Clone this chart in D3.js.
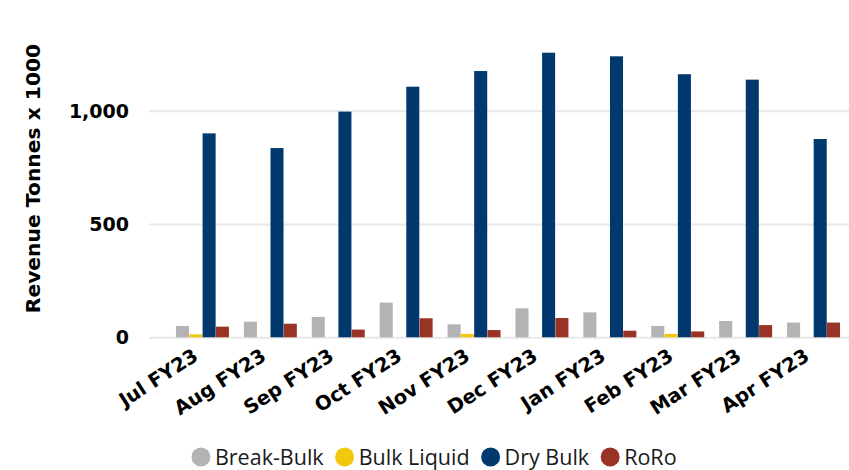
<!DOCTYPE html>
<html><head><meta charset="utf-8">
<script src="https://cdn.jsdelivr.net/npm/d3@7"></script>
<style>body{margin:0;background:#fff}svg{display:block}</style>
</head><body>
<svg id="c" width="849" height="470"></svg>
<script>
const categories = ["Jul FY23","Aug FY23","Sep FY23","Oct FY23","Nov FY23","Dec FY23","Jan FY23","Feb FY23","Mar FY23","Apr FY23"];
const seriesNames = ["Break-Bulk","Bulk Liquid","Dry Bulk","RoRo"];
const breakBulk  = [50, 69, 90, 153, 57, 128, 110, 50, 72, 65];
const bulkLiquid = [13, 0, 0, 0, 15, 0, 0, 15, 0, 0];
const dryBulk    = [900, 835, 996, 1106, 1175, 1256, 1240, 1161, 1137, 875];
const roRo       = [47, 60, 34, 84, 32, 85, 29, 26, 54, 65];
const yTicks = [0, 500, 1000];
const colors = ["#b3b3b3","#f2c80f","#01386e","#983325"];

const seriesVals = [breakBulk, bulkLiquid, dryBulk, roRo];
const svg = d3.select("#c");
const y = d3.scaleLinear().domain([0, 1400]).range([337.3, 337.3 - 1400*0.2266]);
const x = d3.scaleBand().domain(categories).range([168.5, 847.5]).paddingInner(0.22).paddingOuter(0.11);
const x1 = d3.scaleBand().domain(seriesNames).range([0, x.bandwidth()]).paddingInner(0.02);

// gridlines
const yAxis = d3.axisLeft(y).tickValues(yTicks).tickFormat(d3.format(",")).tickSize(-(849-149)).tickPadding(20);
const gy = svg.append("g").attr("transform","translate(149,0)").call(yAxis);
gy.select(".domain").remove();
gy.selectAll(".tick line").attr("stroke","#e8e8e8").attr("stroke-width",2);
gy.selectAll(".tick text").attr("font-family","'DejaVu Sans', Verdana, sans-serif").attr("font-weight","bold").attr("font-size","19px").attr("fill","#000").attr("dy","0.35em");

// bars
const groups = svg.append("g").selectAll("g").data(categories).join("g")
  .attr("transform", d => `translate(${x(d)},0)`);
groups.selectAll("rect").data((c,i) => seriesNames.map((s,j) => ({s, v: seriesVals[j][i], j})))
  .join("rect")
  .attr("x", d => x1(d.s)).attr("width", x1.bandwidth())
  .attr("y", d => y(d.v)).attr("height", d => y(0) - y(d.v))
  .attr("fill", d => colors[d.j]);

// x axis labels
const xAxis = d3.axisBottom(x).tickSize(0).tickPadding(0);
const gx = svg.append("g").attr("transform","translate(0,337)").call(xAxis);
gx.select(".domain").remove();
gx.selectAll(".tick text")
  .attr("font-family","'DejaVu Sans', Verdana, sans-serif").attr("font-weight","bold").attr("font-size","19.5px").attr("fill","#000")
  .attr("text-anchor","end").attr("dy",0).attr("y",0)
  .attr("transform","translate(-3,22) rotate(-33)");

// y title
svg.append("text").attr("transform","translate(40,178.5) rotate(-90)")
  .attr("text-anchor","middle").attr("font-family","'DejaVu Sans', Verdana, sans-serif")
  .attr("font-weight","bold").attr("font-size","20.3px").attr("fill","#000")
  .text("Revenue Tonnes x 1000");

// legend
const lg = svg.append("g");
let cx = 0;
seriesNames.forEach((n,i) => {
  const g = lg.append("g").attr("transform",`translate(${cx},0)`);
  g.append("circle").attr("cx",9.5).attr("cy",0).attr("r",9.5).attr("fill",colors[i]);
  const t = g.append("text").attr("x",23.5).attr("y",0).attr("dy","0.36em")
    .attr("font-family","'Open Sans', 'Noto Sans', sans-serif").attr("font-size","21.5px").attr("fill","#1a1a1a").text(n);
  cx += 23.5 + t.node().getComputedTextLength() + 11.5;
});
const total = cx - 11.5;
lg.attr("transform",`translate(${434 - total/2},457)`);
</script>
</body></html>
